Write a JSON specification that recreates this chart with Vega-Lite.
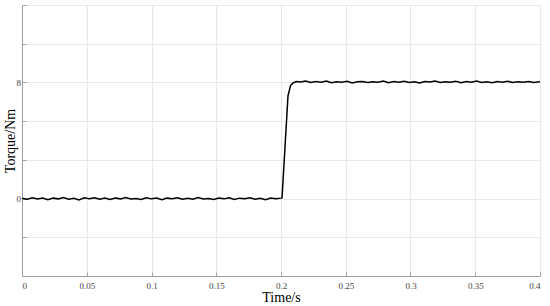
{
  "$schema": "https://vega.github.io/schema/vega-lite/v6.json",
  "autosize": {"type": "none"},
  "padding": {"left": 22, "top": 5, "right": 10, "bottom": 30},
  "width": 518,
  "height": 271,
  "background": "white",
  "config": {
    "view": {"stroke": "#a0a0a0", "strokeWidth": 1},
    "font": "Liberation Serif"
  },
  "data": {
    "values": [
      {"t": 0, "v": 0.02}, {"t": 0.004, "v": -0.05}, {"t": 0.008, "v": 0.06}, {"t": 0.012, "v": -0.03},
      {"t": 0.016, "v": 0.04}, {"t": 0.02, "v": -0.08}, {"t": 0.024, "v": 0.03}, {"t": 0.028, "v": -0.02},
      {"t": 0.032, "v": 0.07}, {"t": 0.036, "v": -0.04}, {"t": 0.04, "v": 0.02}, {"t": 0.044, "v": -0.09},
      {"t": 0.048, "v": 0.05}, {"t": 0.052, "v": -0.01}, {"t": 0.056, "v": 0.06}, {"t": 0.06, "v": -0.05},
      {"t": 0.064, "v": 0.03}, {"t": 0.068, "v": -0.07}, {"t": 0.072, "v": 0.04}, {"t": 0.076, "v": -0.02},
      {"t": 0.08, "v": 0.08}, {"t": 0.084, "v": -0.03}, {"t": 0.088, "v": 0.01}, {"t": 0.092, "v": -0.06},
      {"t": 0.096, "v": 0.05}, {"t": 0.1, "v": -0.02}, {"t": 0.104, "v": 0.04}, {"t": 0.108, "v": -0.08},
      {"t": 0.112, "v": 0.03}, {"t": 0.116, "v": -0.01}, {"t": 0.12, "v": 0.06}, {"t": 0.124, "v": -0.05},
      {"t": 0.128, "v": 0.02}, {"t": 0.132, "v": -0.04}, {"t": 0.136, "v": 0.07}, {"t": 0.14, "v": -0.03},
      {"t": 0.144, "v": 0.01}, {"t": 0.148, "v": -0.07}, {"t": 0.152, "v": 0.04}, {"t": 0.156, "v": -0.02},
      {"t": 0.16, "v": 0.05}, {"t": 0.164, "v": -0.06}, {"t": 0.168, "v": 0.03}, {"t": 0.172, "v": -0.01},
      {"t": 0.176, "v": 0.06}, {"t": 0.18, "v": -0.04}, {"t": 0.184, "v": 0.02}, {"t": 0.188, "v": -0.08},
      {"t": 0.192, "v": 0.04}, {"t": 0.196, "v": -0.02}, {"t": 0.2, "v": 0.03}, {"t": 0.2008, "v": 0.05},
      {"t": 0.2054, "v": 7.08}, {"t": 0.2073, "v": 7.77}, {"t": 0.209, "v": 7.95}, {"t": 0.2119, "v": 8.06},
      {"t": 0.215, "v": 8.03}, {"t": 0.219, "v": 8.09}, {"t": 0.223, "v": 7.99}, {"t": 0.227, "v": 8.06},
      {"t": 0.231, "v": 8.02}, {"t": 0.235, "v": 8.1}, {"t": 0.239, "v": 7.98}, {"t": 0.243, "v": 8.05},
      {"t": 0.247, "v": 8.01}, {"t": 0.251, "v": 8.08}, {"t": 0.255, "v": 7.97}, {"t": 0.259, "v": 8.04},
      {"t": 0.263, "v": 8.07}, {"t": 0.267, "v": 7.99}, {"t": 0.271, "v": 8.05}, {"t": 0.275, "v": 8.02},
      {"t": 0.279, "v": 8.09}, {"t": 0.283, "v": 7.98}, {"t": 0.287, "v": 8.06}, {"t": 0.291, "v": 8.01},
      {"t": 0.295, "v": 8.08}, {"t": 0.299, "v": 8.0}, {"t": 0.303, "v": 8.05}, {"t": 0.307, "v": 7.97},
      {"t": 0.311, "v": 8.07}, {"t": 0.315, "v": 8.03}, {"t": 0.319, "v": 8.09}, {"t": 0.323, "v": 7.99},
      {"t": 0.327, "v": 8.04}, {"t": 0.331, "v": 8.01}, {"t": 0.335, "v": 8.08}, {"t": 0.339, "v": 7.98},
      {"t": 0.343, "v": 8.06}, {"t": 0.347, "v": 8.02}, {"t": 0.351, "v": 8.09}, {"t": 0.355, "v": 8.0},
      {"t": 0.359, "v": 8.05}, {"t": 0.363, "v": 7.98}, {"t": 0.367, "v": 8.07}, {"t": 0.371, "v": 8.02},
      {"t": 0.375, "v": 8.08}, {"t": 0.379, "v": 7.99}, {"t": 0.383, "v": 8.04}, {"t": 0.387, "v": 8.01},
      {"t": 0.391, "v": 8.07}, {"t": 0.395, "v": 7.99}, {"t": 0.4, "v": 8.04}
    ]
  },
  "mark": {"type": "line", "color": "#000000", "strokeWidth": 1.5, "clip": true},
  "encoding": {
    "x": {
      "field": "t",
      "type": "quantitative",
      "scale": {"domain": [0, 0.4], "nice": false, "zero": false},
      "axis": {
        "title": "Time/s",
        "values": [0, 0.05, 0.1, 0.15, 0.2, 0.25, 0.3, 0.35, 0.4],
        "format": "~g",
        "grid": true,
        "gridColor": "#e8e8e8",
        "gridWidth": 1,
        "domainColor": "#a0a0a0",
        "tickColor": "#a0a0a0",
        "tickSize": -4,
        "labelFont": "Liberation Serif",
        "labelFontSize": 9,
        "labelColor": "#444444",
        "labelPadding": 9,
        "titleFont": "Liberation Serif",
        "titleFontSize": 14,
        "titleFontWeight": "normal",
        "titleColor": "#000000",
        "titlePadding": 0
      }
    },
    "y": {
      "field": "v",
      "type": "quantitative",
      "scale": {"domain": [-5.3333333, 13.3333333], "nice": false, "zero": false},
      "axis": {
        "title": "Torque/Nm",
        "values": [-5.3333333, -2.6666667, 0, 2.6666667, 5.3333333, 8, 10.6666667, 13.3333333],
        "labelExpr": "datum.value == 0 || datum.value == 8 ? datum.label : ''",
        "grid": true,
        "gridColor": "#e8e8e8",
        "gridWidth": 1,
        "domainColor": "#a0a0a0",
        "tickColor": "#a0a0a0",
        "tickSize": -4,
        "labelFont": "Liberation Serif",
        "labelFontSize": 9,
        "labelColor": "#444444",
        "labelPadding": 5.5,
        "titleFont": "Liberation Serif",
        "titleFontSize": 14,
        "titleFontWeight": "normal",
        "titleColor": "#000000",
        "titlePadding": -1.5
      }
    }
  }
}
